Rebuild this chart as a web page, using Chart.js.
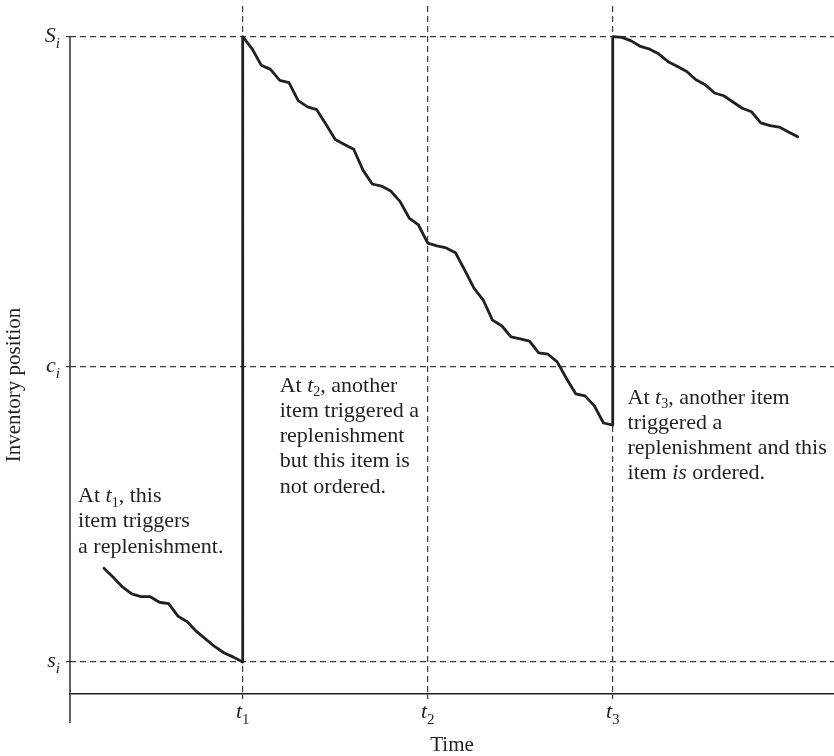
<!DOCTYPE html>
<html>
<head>
<meta charset="utf-8">
<title>Inventory position</title>
<script src="https://cdn.jsdelivr.net/npm/chart.js@4.4.1/dist/chart.umd.min.js"></script>
<style>
  html, body { margin: 0; padding: 0; background: #fff; }
  canvas { display: block; }
</style>
</head>
<body>
<canvas id="chart" width="834" height="756"></canvas>
<script>
// ***************************************************
// Data (time on x, inventory units on y)
// ***************************************************

// before t1: falling down to the reorder point s_i
var seg1X = [2.5, 3, 3.5, 4, 4.5, 5, 5.5, 6, 6.5, 7, 7.5, 8, 8.5, 9, 9.5, 10];
var seg1Y = [18.5, 17.2, 15.8, 14.8, 14.4, 14.4, 13.6, 13.4, 11.6, 10.8, 9.4, 8.3, 7.2, 6.3, 5.7, 5];

// t1 .. t3: up to S_i, then demand eats it down
var seg2X = [10, 10.5, 11, 11.5, 12, 12.5, 13, 13.5, 14, 14.5, 15, 15.5, 16, 16.5, 17, 17.5, 18, 18.5, 19, 19.5,
             20, 20.5, 21, 21.5, 22, 22.5, 23, 23.5, 24, 24.5, 25, 25.5, 26, 26.5, 27, 27.5, 28, 28.5, 29, 29.5, 30];
var seg2Y = [95, 93.3, 90.9, 90.3, 88.7, 88.4, 85.8, 84.9, 84.5, 82.4, 80.2, 79.5, 78.8, 75.8, 73.8, 73.5, 72.8, 71.3, 68.9, 67.9,
             65.3, 64.9, 64.6, 63.9, 61.4, 58.8, 57.1, 54.2, 53.4, 51.8, 51.5, 51.2, 49.5, 49.3, 48.2, 45.8, 43.6, 43.3, 41.9, 39.4, 39.1];

// after t3
var seg3X = [30, 30.5, 31, 31.5, 32, 32.5, 33, 33.5, 34, 34.5, 35, 35.5, 36, 36.5, 37, 37.5, 38, 38.5, 39, 39.5, 40];
var seg3Y = [95, 94.9, 94.4, 93.6, 93.2, 92.5, 91.4, 90.7, 90.0, 88.8, 88.1, 86.9, 86.5, 85.6, 84.7, 84.2, 82.6, 82.2, 82.0, 81.3, 80.6];

var xTicks = [10, 20, 30];
var xTickLabels = ['*t*_1_', '*t*_2_', '*t*_3_'];
var yTicks = [5, 47.5, 95];
var yTickLabels = ['*s*~i~', '*c*~i~', '*S*~i~'];

var xTitle = 'Time';
var yTitle = 'Inventory position';

var note1 = ['At *t*_1_, this', 'item triggers', 'a replenishment.'];
var note2 = ['At *t*_2_, another', 'item triggered a', 'replenishment', 'but this item is', 'not ordered.'];
var note3 = ['At *t*_3_, another item', 'triggered a', 'replenishment and this', 'item *is* ordered.'];

(function() {

  var ink = '#231f20';
  var dashInk = '#3c3c3c';
  var serif = '"Liberation Serif", "Times New Roman", serif';

  // anchors of the notes, in data units (left edge, first baseline)
  var notes = [
    { x: 1.1, y: 28.0, lines: note1 },
    { x: 12.0, y: 43.9, lines: note2 },
    { x: 30.8, y: 42.2, lines: note3 }
  ];

  function toPoints() {
    var pts = [];
    [[seg1X, seg1Y], [seg2X, seg2Y], [seg3X, seg3Y]].forEach(function(s) {
      for (var i = 0; i < s[0].length; i++) pts.push({ x: s[0][i], y: s[1][i] });
    });
    return pts;
  }

  // ***************************************************
  // Rich text: *italic*, _subscript_, ~italic subscript~
  // ***************************************************

  function richText(ctx, line, x, y, size, subSize, subDrop, dry) {
    var x0 = x;
    line.split(/(\*[^*]+\*|_[^_]+_|~[^~]+~)/).forEach(function(p) {
      if (!p) return;
      var c = p.charAt(0);
      var italic = c === '*' || c === '~';
      var sub = c === '_' || c === '~';
      var text = (c === '*' || c === '_' || c === '~') ? p.slice(1, -1) : p;
      ctx.font = (italic ? 'italic ' : '') + (sub ? subSize : size) + 'px ' + serif;
      if (!dry) ctx.fillText(text, x, sub ? y + subDrop : y);
      x += ctx.measureText(text).width;
    });
    return x - x0;
  }

  var sketchText = {
    id: 'sketchText',
    afterDraw: function(chart) {
      var ctx = chart.ctx, area = chart.chartArea;
      var xs = chart.scales.x, ys = chart.scales.y;

      ctx.save();

      // y axis: from S_i down past the time axis
      ctx.strokeStyle = ink;
      ctx.lineWidth = 1.4;
      ctx.beginPath();
      ctx.moveTo(area.left, ys.getPixelForValue(yTicks[2]));
      ctx.lineTo(area.left, area.bottom + 29);
      ctx.stroke();

      ctx.fillStyle = ink;
      ctx.textAlign = 'left';
      ctx.textBaseline = 'alphabetic';

      xTicks.forEach(function(v, i) {
        var w = richText(ctx, xTickLabels[i], 0, 0, 22, 15, 6, true);
        richText(ctx, xTickLabels[i], xs.getPixelForValue(v) - w / 2, area.bottom + 24, 22, 15, 6);
      });

      yTicks.forEach(function(v, i) {
        var w = richText(ctx, yTickLabels[i], 0, 0, 22, 15, 5.5, true);
        richText(ctx, yTickLabels[i], area.left - 10 - w, ys.getPixelForValue(v) + 5.5, 22, 15, 5.5);
      });

      notes.forEach(function(n) {
        var x = xs.getPixelForValue(n.x), y = ys.getPixelForValue(n.y);
        n.lines.forEach(function(line, k) {
          richText(ctx, line, x, y + k * 25.2, 22, 14, 4.5);
        });
      });

      ctx.translate(20, area.top + 379);
      ctx.rotate(-Math.PI / 2);
      ctx.textAlign = 'center';
      ctx.font = '21px ' + serif;
      ctx.fillText(yTitle, 0, 0);

      ctx.restore();
    }
  };

  // ***************************************************
  // Chart
  // ***************************************************

  new Chart(document.getElementById('chart'), {
    type: 'scatter',
    data: {
      datasets: [{
        data: toPoints(),
        showLine: true,
        borderColor: ink,
        borderWidth: 2.8,
        borderJoinStyle: 'round',
        borderCapStyle: 'round',
        pointRadius: 0,
        tension: 0,
        fill: false
      }]
    },
    options: {
      responsive: false,
      animation: false,
      devicePixelRatio: 1,
      events: [],
      layout: { padding: { top: 6, right: 0, left: 0, bottom: 0 } },
      plugins: { legend: { display: false }, tooltip: { enabled: false } },
      scales: {
        x: {
          type: 'linear',
          min: 0.665,
          max: 41.96,
          afterBuildTicks: function(s) { s.ticks = xTicks.map(function(v) { return { value: v }; }); },
          afterFit: function(s) { s.height = 62; },
          ticks: { display: false },
          grid: { color: dashInk, lineWidth: 1.2, drawTicks: true, tickLength: 5, tickColor: dashInk },
          border: { display: true, color: ink, width: 1.4, dash: [6, 4] },
          title: {
            display: true, text: xTitle, color: ink, padding: 0,
            font: { family: serif, size: 21, lineHeight: 1 }
          }
        },
        y: {
          type: 'linear',
          min: 0.394,
          max: 99.42,
          afterBuildTicks: function(s) { s.ticks = yTicks.map(function(v) { return { value: v }; }); },
          afterFit: function(s) { s.width = 70; },
          ticks: { display: false },
          grid: { color: dashInk, lineWidth: 1.2, drawTicks: true, tickLength: 4, tickColor: dashInk },
          border: { display: false, dash: [6, 4] },
          title: { display: false }
        }
      }
    },
    plugins: [sketchText]
  });

})();
</script>
</body>
</html>
